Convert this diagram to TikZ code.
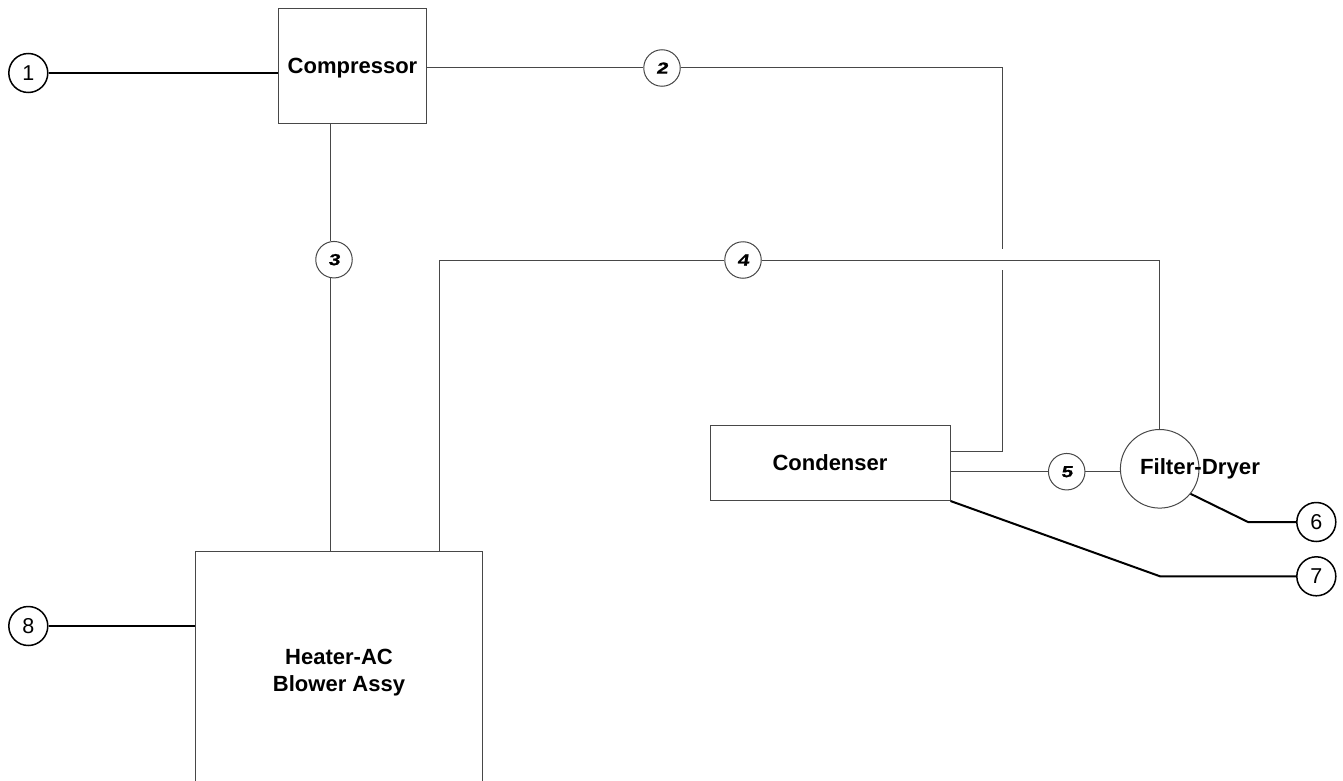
\documentclass[tikz,border=0pt]{standalone}
\usepackage{fontspec}
\setmainfont{Liberation Sans}
\newfontfamily\flowfont[BoldFeatures={FakeBold=0.7,FakeSlant=0.12}]{Liberation Sans}
\tikzset{
  thinline/.style={line width=1pt,draw=black!72},
  thickline/.style={line width=2pt,draw=black},
  unit/.style={thinline,rectangle,inner sep=0pt},
  lbl/.style={inner sep=0pt,align=center,font=\fontsize{22}{27}\selectfont\bfseries},
  callout/.style={circle,draw=black,line width=1.5pt,minimum size=39pt,inner sep=0pt,font=\fontsize{21.5}{22}\selectfont},
  flow/.style={circle,thinline,minimum size=36.5pt,inner sep=0pt},
  flownum/.style={inner sep=0pt,xscale=1.3,font=\fontsize{16}{16}\flowfont\bfseries},
}
\begin{document}
\begin{tikzpicture}[x=1pt,y=-1pt]
\useasboundingbox (0,0) rectangle (1343,781);
% boxes
\node[unit,minimum width=148pt,minimum height=115pt] (comp) at (352.5,66) {};
\node[lbl] (complbl) at (352.5,68.5) {Compressor};
\node[unit,minimum width=239.5pt,minimum height=75.5pt] (cond) at (830.7,463.2) {};
\node[lbl] (condlbl) at (830,463) {Condenser};
\node[circle,thinline,minimum size=78.6pt,inner sep=0pt] (filter) at (1159.7,468.8) {};
\node[lbl,xscale=1.012] (filterlbl) at (1200,469) {Filter-Dryer};
\coordinate (hbl) at (195,781);
\coordinate (htl) at (195,551.5);
\coordinate (htr) at (482.5,551.5);
\coordinate (hbr) at (482.5,781);
\draw[thinline] (hbl) -- (htl) -- (htr) -- (hbr);
\node[lbl] (heater) at (339,673) {Heater-AC\\Blower Assy};
% thick callouts
\node[callout] (c1) at (28.3,73) {1};
\node[callout] (c6) at (1316.3,522) {6};
\node[callout] (c7) at (1316.3,576.3) {7};
\node[callout] (c8) at (28.3,626) {8};
% thin numbered circles
\node[flow] (n2) at (662,68) {};
\node[flow] (n3) at (334,259.7) {};
\node[flow] (n4) at (743,260) {};
\node[flow] (n5) at (1066.7,471.7) {};
\node[flownum] (t2) at (n2) {2};
\node[flownum] (t3) at (n3) {3};
\node[flownum] (t4) at (n4) {4};
\node[flownum] (t5) at (n5) {5};
% helper coordinates
\coordinate (g2top) at (1002.5,249.3);
\coordinate (g2bot) at (1002.5,270);
\coordinate (cond2) at (950.5,451);
\coordinate (cond5) at (950.5,471);
\coordinate (cond7) at (950.5,501);
\coordinate (h4) at (439,551.5);
\coordinate (k6) at (1248,522);
\coordinate (k7) at (1160,576.3);
\coordinate (f6) at (filter.-39);
% thick connectors
\draw[thickline] (c1.east) -- (comp.west |- c1.east);
\draw[thickline] (c8.east) -- (htl |- c8.east);
\draw[thickline,line join=round] (f6) -- (k6) -- (c6.west);
\draw[thickline,line join=round] (cond7) -- (k7) -- (c7.west);
% thin connectors
\draw[thinline] (comp.east |- n2.west) -- (n2.west);
\draw[thinline] (n2.east) -| (g2top);
\draw[thinline] (g2bot) |- (cond2);
\draw[thinline] (comp.south -| n3.100) -- (n3.100);
\draw[thinline] (n3.260) -- (n3.260 |- htl);
\draw[thinline] (h4) |- (n4.west);
\draw[thinline] (n4.east) -| (filter.north);
\draw[thinline] (cond5) -- (n5.west |- cond5);
\draw[thinline] (n5.east |- cond5) -- (filter.west |- cond5);
\end{tikzpicture}
\end{document}
